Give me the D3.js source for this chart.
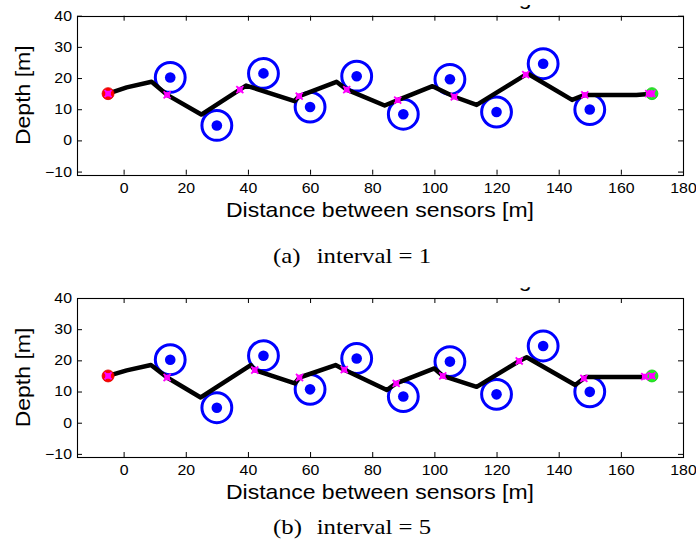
<!DOCTYPE html>
<html>
<head>
<meta charset="utf-8">
<script src="https://cdn.jsdelivr.net/npm/d3@7"></script>
<style>
  html, body { margin: 0; padding: 0; background: #fff; }
  svg { display: block; }
</style>
</head>
<body>
<svg id="fig" width="696" height="546"></svg>
<script>
// Sensor nodes: position along the line (m) and depth (m)
const sensorX = [15, 30, 45, 60, 75, 90, 105, 120, 135, 150];
const sensorDepth = [20.2, 4.8, 21.5, 10.7, 20.6, 8.4, 19.6, 9.1, 24.6, 9.9];
// Communication range around every sensor (m)
const sensingRange = 4.8;

// Start and end of the vehicle tour
const startPoint = [-5, 15];
const endPoint = [170, 15];

// Vehicle route, sampling interval = 1
const routeInterval1 = [
  [-5, 15], [1, 17], [9, 18.8], [14, 14.6], [25, 8.3], [37.4, 16.3], [39.4, 17.6],
  [55, 12.6], [56.5, 14.2], [68.5, 18.8], [71.8, 16.3], [84, 11.2], [88.2, 12.9],
  [99.4, 17.4], [106.4, 14.0], [113.6, 11.4], [129.4, 21.1], [130.2, 21.3],
  [144.3, 13.0], [148.4, 14.6], [165, 14.6], [170, 15]
];
// Data pick-up points, sampling interval = 1
const pickupInterval1 = [
  [-5, 15], [14, 14.6], [37.4, 16.3], [56.5, 14.2], [71.8, 16.3], [88.2, 12.9],
  [106.4, 14.0], [129.4, 21.1], [148.4, 14.6], [169, 15], [170, 15]
];

// Vehicle route, sampling interval = 5
const routeInterval5 = [
  [-5, 15], [1, 16.8], [8.8, 18.5], [14, 14.5], [24.8, 8.1], [40.9, 18.5], [42.2, 16.9],
  [55.1, 12.6], [56.6, 14.5], [68.2, 18.5], [71, 17], [84.7, 10.5], [87.7, 12.6],
  [100, 17.4], [102.7, 15.0], [113.6, 11.5], [127.3, 19.8], [129.7, 21],
  [145.3, 12.1], [148.1, 14.2], [148.6, 14.7], [167.7, 14.7], [170, 15]
];
// Data pick-up points, sampling interval = 5
const pickupInterval5 = [
  [-5, 15], [14, 14.5], [42.2, 16.9], [56.6, 14.5], [71, 17], [87.7, 12.6],
  [102.7, 15.0], [127.3, 19.8], [148.1, 14.2], [167.7, 14.8], [170, 15]
];

// Axis set-up and texts
const xDomain = [-15, 180];
const yDomain = [-11, 40];
const xTicks = [0, 20, 40, 60, 80, 100, 120, 140, 160, 180];
const yTicks = [-10, 0, 10, 20, 30, 40];
const xLabel = "Distance between sensors [m]";
const yLabel = "Depth [m]";
const figureTitle = "Sensor data collection routing";
const captionTags = ["(a)", "(b)"];
const captionTexts = ["interval = 1", "interval = 5"];

// ---------------------------------------------------------------
const SX = 1.15;               // horizontal stretch of the sans text
const SANS = "'Liberation Sans', Arial, Helvetica, sans-serif";
const SERIF = "'Liberation Serif', 'Times New Roman', serif";
const plotLeft = 77, plotRight = 683, plotH = 159;

const panels = [
  { top: 15.7, clipTop: 5, titleBase: 4.8, captionY: 263,
    route: routeInterval1, pickups: pickupInterval1 },
  { top: 298, clipTop: 287.3, titleBase: 287.1, captionY: 534,
    route: routeInterval5, pickups: pickupInterval5 }
];

const svg = d3.select("#fig");
const sensors = sensorX.map((v, i) => ({ x: v, d: sensorDepth[i] }));

panels.forEach((p, idx) => {
  const x = d3.scaleLinear().domain(xDomain).range([plotLeft, plotRight]);
  const y = d3.scaleLinear().domain(yDomain).range([p.top + plotH, p.top]);
  const bottom = p.top + plotH;

  // each panel is cut at the top edge of its own image area
  const clipId = "panel-clip-" + idx;
  svg.append("clipPath").attr("id", clipId)
    .append("rect").attr("x", 0).attr("y", p.clipTop)
    .attr("width", 696).attr("height", 546 - p.clipTop);

  const g = svg.append("g").attr("clip-path", `url(#${clipId})`);

  // title (sits mostly above the image area)
  g.append("text")
    .attr("transform", `translate(${(plotLeft + plotRight) / 2},${p.titleBase}) scale(${SX},1)`)
    .attr("text-anchor", "middle")
    .attr("font-family", SANS).attr("font-size", 20)
    .text(figureTitle);

  // axes: inward ticks on every side
  const axB = g.append("g").attr("transform", `translate(0,${bottom})`)
    .call(d3.axisBottom(x).tickValues(xTicks).tickSize(-5).tickPadding(8.4).tickSizeOuter(0));
  const axT = g.append("g").attr("transform", `translate(0,${p.top})`)
    .call(d3.axisTop(x).tickValues(xTicks).tickSize(-5).tickFormat(() => "").tickSizeOuter(0));
  const axL = g.append("g").attr("transform", `translate(${plotLeft},0)`)
    .call(d3.axisLeft(y).tickValues(yTicks).tickSize(-5).tickPadding(5 / SX).tickSizeOuter(0));
  const axR = g.append("g").attr("transform", `translate(${plotRight},0)`)
    .call(d3.axisRight(y).tickValues(yTicks).tickSize(-5).tickFormat(() => "").tickSizeOuter(0));

  [axB, axT, axL, axR].forEach(a => {
    a.select(".domain").remove();
    a.attr("font-family", SANS).attr("font-size", 13.8);
    a.selectAll("line").attr("stroke", "#000");
    a.selectAll("text").attr("fill", "#000").attr("transform", `scale(${SX},1)`);
  });

  // frame
  g.append("rect")
    .attr("x", plotLeft + 0.5).attr("y", Math.round(p.top) + 0.5)
    .attr("width", plotRight - plotLeft).attr("height", Math.round(bottom) - Math.round(p.top))
    .attr("fill", "none").attr("stroke", "#000").attr("stroke-width", 1.1);

  // axis labels
  g.append("text")
    .attr("transform", `translate(${(plotLeft + plotRight) / 2},${p.top + 201}) scale(${SX},1)`)
    .attr("text-anchor", "middle")
    .attr("font-family", SANS).attr("font-size", 20)
    .text(xLabel);
  g.append("text")
    .attr("transform", `translate(30,${p.top + plotH / 2}) rotate(-90) scale(${SX},1)`)
    .attr("text-anchor", "middle")
    .attr("font-family", SANS).attr("font-size", 20)
    .text(yLabel);

  // sensing ranges and sensors
  const rPx = x(sensingRange) - x(0);
  g.append("g").selectAll("circle").data(sensors).join("circle")
    .attr("cx", d => x(d.x)).attr("cy", d => y(d.d)).attr("r", rPx)
    .attr("fill", "none").attr("stroke", "#0000ff").attr("stroke-width", 3);
  g.append("g").selectAll("circle").data(sensors).join("circle")
    .attr("cx", d => x(d.x)).attr("cy", d => y(d.d)).attr("r", 5.3)
    .attr("fill", "#0000ff");

  // vehicle route
  g.append("path").datum(p.route)
    .attr("d", d3.line().x(d => x(d[0])).y(d => y(d[1])))
    .attr("fill", "none").attr("stroke", "#000").attr("stroke-width", 4.5)
    .attr("stroke-linejoin", "round").attr("stroke-linecap", "round");

  // start and end points
  g.append("circle").attr("cx", x(startPoint[0])).attr("cy", y(startPoint[1])).attr("r", 6)
    .attr("fill", "#ff0000").attr("stroke", "#dd0000").attr("stroke-width", 0.8);
  g.append("circle").attr("cx", x(endPoint[0])).attr("cy", y(endPoint[1])).attr("r", 6)
    .attr("fill", "#22ee22").attr("stroke", "#11cc11").attr("stroke-width", 0.8);

  // data pick-up points
  const pk = g.append("g");
  pk.selectAll("rect").data(p.pickups).join("rect")
    .attr("x", d => x(d[0]) - 2.8).attr("y", d => y(d[1]) - 2.8)
    .attr("width", 5.6).attr("height", 5.6).attr("fill", "#ff00ff");
  pk.selectAll("path").data(p.pickups).join("path")
    .attr("transform", d => `translate(${x(d[0])},${y(d[1])})`)
    .attr("d", d3.symbol(d3.symbolTimes, 34))
    .attr("fill", "none").attr("stroke", "#ff00ff").attr("stroke-width", 1.8);

  // caption
  const cap = svg.append("text")
    .attr("transform", `translate(273,${p.captionY}) scale(1.18,1)`)
    .attr("font-family", SERIF).attr("font-size", 21).attr("fill", "#000");
  cap.append("tspan").attr("x", 0).text(captionTags[idx]);
  cap.append("tspan").attr("x", 37).text(captionTexts[idx]);
});
</script>
</body>
</html>
